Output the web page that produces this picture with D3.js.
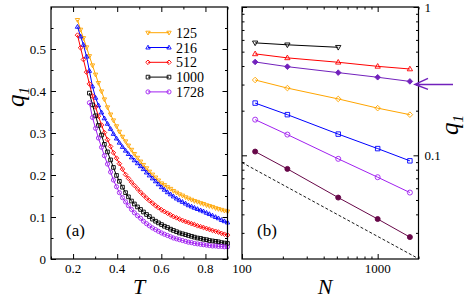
<!DOCTYPE html>
<html>
<head>
<meta charset="utf-8">
<script src="https://cdn.jsdelivr.net/npm/d3@7"></script>
<style>
  body { margin: 0; background: #fff; }
  svg { display: block; font-family: "Liberation Serif", "DejaVu Serif", serif; }
</style>
</head>
<body>
<div id="chart"></div>
<script>
// ---- panel (a): q1 vs T ----
const temps = [0.220, 0.234, 0.247, 0.261, 0.274, 0.288, 0.302, 0.315, 0.329, 0.342, 0.356, 0.370, 0.383, 0.397, 0.410, 0.424, 0.438, 0.451, 0.465, 0.478, 0.492, 0.506, 0.519, 0.533, 0.546, 0.560, 0.574, 0.587, 0.601, 0.614, 0.628, 0.642, 0.655, 0.669, 0.682, 0.696, 0.710, 0.723, 0.737, 0.750, 0.764, 0.778, 0.791, 0.805, 0.818, 0.832, 0.846, 0.859, 0.873, 0.886, 0.900];

const q125 = [0.569, 0.546, 0.526, 0.504, 0.483, 0.461, 0.439, 0.419, 0.399, 0.380, 0.361, 0.344, 0.330, 0.316, 0.303, 0.291, 0.280, 0.270, 0.260, 0.250, 0.241, 0.232, 0.224, 0.216, 0.208, 0.201, 0.194, 0.187, 0.180, 0.176, 0.171, 0.167, 0.162, 0.158, 0.154, 0.151, 0.147, 0.144, 0.141, 0.138, 0.136, 0.133, 0.131, 0.128, 0.126, 0.124, 0.121, 0.119, 0.117, 0.115, 0.113];
const q216 = [0.553, 0.530, 0.510, 0.482, 0.448, 0.411, 0.384, 0.366, 0.349, 0.335, 0.322, 0.310, 0.298, 0.287, 0.277, 0.267, 0.258, 0.250, 0.242, 0.235, 0.228, 0.221, 0.214, 0.206, 0.199, 0.192, 0.185, 0.178, 0.171, 0.165, 0.159, 0.154, 0.149, 0.144, 0.140, 0.136, 0.132, 0.128, 0.125, 0.122, 0.119, 0.116, 0.1135, 0.110, 0.107, 0.1035, 0.100, 0.097, 0.093, 0.090, 0.087];
const q512 = [0.533, 0.503, 0.475, 0.445, 0.417, 0.388, 0.362, 0.340, 0.319, 0.301, 0.284, 0.268, 0.253, 0.240, 0.227, 0.214, 0.201, 0.192, 0.183, 0.175, 0.167, 0.159, 0.152, 0.145, 0.139, 0.133, 0.127, 0.122, 0.117, 0.113, 0.109, 0.105, 0.101, 0.098, 0.095, 0.092, 0.089, 0.087, 0.084, 0.082, 0.079, 0.077, 0.075, 0.0726, 0.0705, 0.068, 0.066, 0.064, 0.061, 0.059, 0.057];
// the two largest systems start at T = 0.274 (index 4 of temps)
const q1000 = [null, null, null, null, 0.395, 0.367, 0.341, 0.318, 0.295, 0.273, 0.255, 0.236, 0.218, 0.199, 0.185, 0.171, 0.158, 0.148, 0.138, 0.131, 0.124, 0.118, 0.112, 0.106, 0.101, 0.095, 0.090, 0.086, 0.082, 0.078, 0.075, 0.071, 0.068, 0.065, 0.062, 0.060, 0.058, 0.056, 0.054, 0.052, 0.050, 0.049, 0.047, 0.046, 0.044, 0.043, 0.042, 0.041, 0.039, 0.038, 0.037];
const q1728 = [null, null, null, null, 0.372, 0.337, 0.311, 0.288, 0.266, 0.246, 0.226, 0.207, 0.188, 0.172, 0.158, 0.146, 0.136, 0.127, 0.118, 0.110, 0.103, 0.097, 0.090, 0.084, 0.079, 0.074, 0.070, 0.066, 0.062, 0.059, 0.056, 0.053, 0.050, 0.048, 0.046, 0.044, 0.042, 0.040, 0.039, 0.037, 0.036, 0.035, 0.034, 0.033, 0.032, 0.031, 0.031, 0.030, 0.030, 0.029, 0.029];

const sizesA = ["125", "216", "512", "1000", "1728"];
const seriesA = [q125, q216, q512, q1000, q1728];
const colorsA = ["#ffa500", "#0000ff", "#ff0000", "#000000", "#a020f0"];
const symbolsA = ["triDown", "triUp", "diamond", "square", "circle"];

const xTicksA = [0.2, 0.4, 0.6, 0.8];
const xMinorA = [0.1, 0.3, 0.5, 0.7, 0.9];
const yTicksA = [0, 0.1, 0.2, 0.3, 0.4, 0.5];
const yMinorA = [0.05, 0.15, 0.25, 0.35, 0.45, 0.55];

// ---- panel (b): q1 vs N (log-log) ----
const sizesN = [125, 216, 512, 1000, 1728];
const qbBlack = [0.573, 0.556, 0.535, null, null];
const qbRed = [0.483, 0.454, 0.424, 0.398, 0.382];
const qbIndigo = [0.426, 0.396, 0.361, 0.336, 0.315];
const qbOrange = [0.322, 0.284, 0.240, 0.208, 0.188];
const qbBlue = [0.225, 0.188, 0.139, 0.111, 0.0918];
const qbViolet = [0.174, 0.138, 0.0947, 0.0712, 0.0561];
const qbMaroon = [0.106, 0.0810, 0.0519, 0.0372, 0.0281];
const guideN = [100, 2000];
const guideQ = [0.0894, 0.0201];

const seriesB = [qbBlack, qbRed, qbIndigo, qbOrange, qbBlue, qbViolet, qbMaroon];
const colorsB = ["#000000", "#ff0000", "#7221bc", "#ffa500", "#0000ff", "#a020f0", "#670748"];
const symbolsB = ["triDown", "triUp", "diamond", "diamond", "square", "circle", "circle"];
const filledB = [false, false, true, false, false, false, true];

const xTicksB = [100, 1000];
const xMinorB = [200, 300, 400, 500, 600, 700, 800, 900, 2000];
const yTicksB = [0.1, 1];
const yMinorB = [0.03, 0.04, 0.05, 0.06, 0.07, 0.08, 0.09, 0.2, 0.3, 0.4, 0.5, 0.6, 0.7, 0.8, 0.9];

const W = 469, H = 302;
const svg = d3.select("#chart").append("svg").attr("width", W).attr("height", H);

const xa = d3.scaleLinear().domain([0.1, 0.9]).range([51, 227.5]);
const ya = d3.scaleLinear().domain([0, 0.6]).range([259, 7]);
const xb = d3.scaleLog().domain([100, 2000]).range([242, 418.5]);
const yb = d3.scaleLog().domain([0.02, 1]).range([259, 7]);

function markerPath(type, r) {
    switch (type) {
        case "triUp": return `M0,${-r}L${r * 0.95},${r * 0.65}L${-r * 0.95},${r * 0.65}Z`;
        case "triDown": return `M0,${r}L${r * 0.95},${-r * 0.65}L${-r * 0.95},${-r * 0.65}Z`;
        case "diamond": return `M0,${-r}L${r},0L0,${r}L${-r},0Z`;
        case "square": return `M${-r * 0.8},${-r * 0.8}h${r * 1.6}v${r * 1.6}h${-r * 1.6}Z`;
        default: return circlePath(r * 0.9);
    }
}
function circlePath(r) {
    const p = d3.path();
    p.arc(0, 0, r, 0, 2 * Math.PI);
    p.closePath();
    return p.toString();
}

function drawAxes(g, x, y, opt) {
    const x0 = x.range()[0], x1 = x.range()[1];
    const y0 = y.range()[0], y1 = y.range()[1];
    const majorLen = 5, minorLen = 2.5;
    // bottom + top ticks
    [[y0, -1], [y1, 1]].forEach(([yy, dir]) => {
        g.append("g").attr("transform", `translate(0,${yy})`)
            .call(d3.axisBottom(x).tickValues(opt.xMajor).tickSize(dir * majorLen).tickFormat(""))
            .call(a => a.select(".domain").remove());
        g.append("g").attr("transform", `translate(0,${yy})`)
            .call(d3.axisBottom(x).tickValues(opt.xMinor).tickSize(dir * minorLen).tickFormat(""))
            .call(a => a.select(".domain").remove());
    });
    [[x0, 1], [x1, -1]].forEach(([xx, dir]) => {
        g.append("g").attr("transform", `translate(${xx},0)`)
            .call(d3.axisLeft(y).tickValues(opt.yMajor).tickSize(-dir * majorLen).tickFormat(""))
            .call(a => a.select(".domain").remove());
        g.append("g").attr("transform", `translate(${xx},0)`)
            .call(d3.axisLeft(y).tickValues(opt.yMinor).tickSize(-dir * minorLen).tickFormat(""))
            .call(a => a.select(".domain").remove());
    });
    g.selectAll(".tick line").attr("stroke", "#000").attr("stroke-width", 1);
    g.append("rect")
        .attr("x", x0).attr("y", y1).attr("width", x1 - x0).attr("height", y0 - y1)
        .attr("fill", "none").attr("stroke", "#000").attr("stroke-width", 1.2);

    // tick labels
    g.append("g").selectAll("text").data(opt.xMajor).join("text")
        .attr("x", d => x(d)).attr("y", y0 + 14)
        .attr("text-anchor", "middle").attr("font-size", 13)
        .text(opt.xFmt);
    const yl = g.append("g").selectAll("text").data(opt.yMajor).join("text")
        .attr("y", d => y(d) + 4.5).attr("font-size", 13)
        .text(opt.yFmt);
    if (opt.yRight) yl.attr("x", x1 + 6).attr("text-anchor", "start");
    else yl.attr("x", x0 - 5).attr("text-anchor", "end");
}

function drawSeries(g, x, y, xs, ys, color, sym, r, filled) {
    const pts = xs.map((d, i) => [d, ys[i]]).filter(p => p[1] != null);
    g.append("path").datum(pts)
        .attr("fill", "none").attr("stroke", color).attr("stroke-width", 1)
        .attr("d", d3.line().x(p => x(p[0])).y(p => y(p[1])));
    g.append("g").selectAll("path").data(pts).join("path")
        .attr("transform", p => `translate(${x(p[0])},${y(p[1])})`)
        .attr("d", markerPath(sym, r))
        .attr("fill", filled ? color : "none")
        .attr("stroke", color).attr("stroke-width", 0.9);
}

// ---------- panel (a) ----------
const ga = svg.append("g");
seriesA.forEach((s, k) => drawSeries(ga, xa, ya, temps, s, colorsA[k], symbolsA[k], 2.3, false));
drawAxes(ga, xa, ya, {
    xMajor: xTicksA, xMinor: xMinorA, yMajor: yTicksA, yMinor: yMinorA,
    xFmt: d => d, yFmt: d => d, yRight: false
});

// legend
const leg = ga.append("g");
sizesA.forEach((lab, k) => {
    const yy = 32.7 + k * 14.8;
    leg.append("line").attr("x1", 148).attr("x2", 169).attr("y1", yy).attr("y2", yy)
        .attr("stroke", colorsA[k]).attr("stroke-width", 1);
    [148, 169].forEach(xx => leg.append("path")
        .attr("transform", `translate(${xx},${yy})`)
        .attr("d", markerPath(symbolsA[k], 2.3))
        .attr("fill", "none").attr("stroke", colorsA[k]).attr("stroke-width", 0.9));
    leg.append("text").attr("x", 176).attr("y", yy + 5).attr("font-size", 14).text(lab);
});

ga.append("text").attr("x", 66).attr("y", 236).attr("font-size", 17).text("(a)");
ga.append("text").attr("x", 139).attr("y", 294).attr("font-size", 22)
    .attr("font-style", "italic").attr("text-anchor", "middle").text("T");
const qa = ga.append("text").attr("transform", "translate(24,97) rotate(-90)")
    .attr("font-size", 25).attr("font-style", "italic").attr("text-anchor", "middle");
qa.append("tspan").text("q");
qa.append("tspan").attr("font-size", 15).attr("dy", 5).text("1");

// ---------- panel (b) ----------
const gb = svg.append("g");
gb.append("path").datum(guideN.map((n, i) => [n, guideQ[i]]))
    .attr("fill", "none").attr("stroke", "#000").attr("stroke-width", 0.9)
    .attr("stroke-dasharray", "3,2")
    .attr("d", d3.line().x(p => xb(p[0])).y(p => yb(p[1])));
seriesB.forEach((s, k) => drawSeries(gb, xb, yb, sizesN, s, colorsB[k], symbolsB[k], 2.8, filledB[k]));
drawAxes(gb, xb, yb, {
    xMajor: xTicksB, xMinor: xMinorB, yMajor: yTicksB, yMinor: yMinorB,
    xFmt: d => d, yFmt: d => d, yRight: true
});

gb.append("text").attr("x", 257).attr("y", 236).attr("font-size", 17).text("(b)");
gb.append("text").attr("x", 325).attr("y", 294).attr("font-size", 22)
    .attr("font-style", "italic").attr("text-anchor", "middle").text("N");
const qb = gb.append("text").attr("transform", "translate(458,125) rotate(-90)")
    .attr("font-size", 25).attr("font-style", "italic").attr("text-anchor", "middle");
qb.append("tspan").text("q");
qb.append("tspan").attr("font-size", 15).attr("dy", 5).text("1");

// arrow pointing at the indigo point of the largest system
const arrowColor = "#7221bc";
const tipX = 415, tipY = yb(qbIndigo[4]) + 3;
gb.append("path")
    .attr("d", `M${tipX + 38},${tipY}H${tipX}M${tipX + 13},${tipY - 6}L${tipX},${tipY}L${tipX + 13},${tipY + 5}`)
    .attr("fill", "none").attr("stroke", arrowColor).attr("stroke-width", 1.5);
</script>
</body>
</html>
